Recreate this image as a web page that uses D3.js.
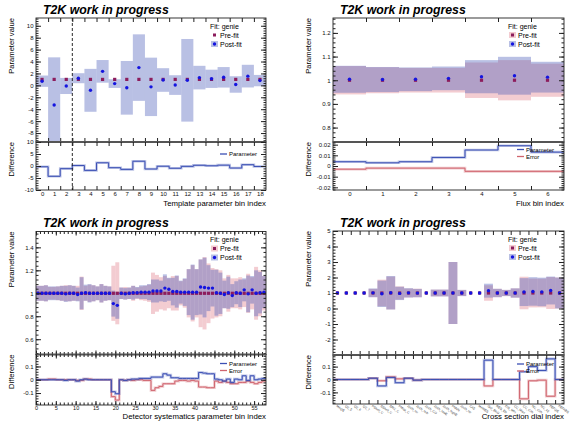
<!DOCTYPE html>
<html>
<head>
<meta charset="utf-8">
<script src="https://cdn.jsdelivr.net/npm/d3@7"></script>
<style>
  body { margin: 0; background: #fff; }
  svg { display: block; }
</style>
</head>
<body>
<svg width="572" height="421"></svg>
<script>
// ---------- data ----------

// Template parameters (19 bins), pre-fit has no band
const templateBins = [0,1,2,3,4,5,6,7,8,9,10,11,12,13,14,15,16,17,18];
const templatePrefit = [1,1,1,1,1,1,1,1,1,1,1,1,1,1,1,1,1,1,1];
const templatePostfit = [0.7,-3.3,-0.1,1.2,-0.83,2.35,0.3,-0.41,2.98,-0.25,0.9,0.05,0.85,1.3,1.1,1.35,0.15,1.55,0.8];
const templatePostErr = [0.95,8.0,1.35,0.84,3.6,1.9,0.73,4.5,5.58,4.9,1.98,1.65,6.93,1.98,1.53,1.72,1.38,1.9,0.95];

// Flux parameters (7 bins)
const fluxBins = [0,1,2,3,4,5,6];
const fluxPrefit = [1,1,1,1,1,1,1];
const fluxPrefitErr = [0.06,0.055,0.052,0.052,0.075,0.085,0.07];
const fluxPostfit = [1.004,1.003,1.004,1.008,1.015,1.019,1.013];
const fluxPostErr = [0.057,0.053,0.05,0.05,0.07,0.08,0.065];

// Detector systematics (58 bins)
const detBins = [0,1,2,3,4,5,6,7,8,9,10,11,12,13,14,15,16,17,18,19,20,21,22,23,24,25,26,27,28,29,
  30,31,32,33,34,35,36,37,38,39,40,41,42,43,44,45,46,47,48,49,50,51,52,53,54,55,56,57];
const detPrefit = detBins.map(() => 1);
const detPostfit = [1.0,1.0,1.0,1.0,1.0,1.0,1.0,0.995,1.0,1.0,0.99,1.0,1.005,1.0,1.0,1.0,1.0,1.0,1.0,
  0.91,0.895,
  1.0,0.995,1.0,1.005,1.005,1.01,1.01,1.01,1.02,1.02,1.02,1.045,1.035,1.015,1.015,1.01,1.01,1.01,1.01,1.01,
  1.055,1.05,1.045,1.045,1.005,1.0,0.99,1.005,0.98,1.005,1.0,1.03,0.995,1.03,1.0,1.005,1.01];
const detPostErr = [0.065,0.065,0.07,0.06,0.06,0.06,0.065,0.07,0.07,0.065,0.06,0.14,0.07,0.08,0.07,0.06,0.08,0.065,0.06,
  0.113,0.117,
  0.05,0.05,0.05,0.06,0.05,0.06,0.06,0.07,0.1,0.1,0.09,0.12,0.1,0.12,0.14,0.1,0.12,0.2,0.24,0.2,
  0.24,0.26,0.2,0.16,0.2,0.18,0.12,0.14,0.1,0.1,0.12,0.1,0.16,0.12,0.2,0.18,0.14];
const detPrefitErr = [0.065,0.065,0.07,0.055,0.055,0.06,0.065,0.07,0.07,0.065,0.065,0.145,0.065,0.075,0.07,0.06,0.08,0.065,0.06,
  0.24,0.27,
  0.05,0.055,0.05,0.065,0.05,0.06,0.065,0.075,0.18,0.16,0.14,0.15,0.13,0.15,0.15,0.105,0.125,0.21,0.245,0.21,
  0.295,0.315,0.26,0.22,0.21,0.2,0.13,0.16,0.13,0.13,0.14,0.12,0.17,0.14,0.23,0.2,0.15];

// Cross-section dials (26 bins)
const xsecNames = ["MAQE","Q2_5","Q2_6","Q2_7","PShell_C","SShell_C","SRC_C","PMiss_C",
  "2p2h_nu","2p2h_nub","2p2h_CO","2p2h_lowE","2p2h_highE","PNNN","2p2h_np","CA5","MARES",
  "ISO_BKG","RES_Eb","DIS_MPi","CC_Misc","CC_Coh","NC_Coh","NC_1g","FEFQE","FEFABS"];
const xsecBins = [0,1,2,3,4,5,6,7,8,9,10,11,12,13,14,15,16,17,18,19,20,21,22,23,24,25];
const xsecPrefit = xsecBins.map(() => 1);
const xsecPostfit = [1,1,1,1,1.01,0.95,1.015,0.975,1.01,0.995,1,1,1,1,1,1,1,1.15,1,1,1,1.06,1.1,1.07,1.16,1];
const xsecPostErr = [0,0,0,0,0.28,0.85,1.08,0.43,0.3,0.27,0,0.22,0.22,2.0,0.2,0,0,0.45,0.27,0.2,0.3,0.9,0.92,0.92,0.9,1.0];
const xsecPrefitErr = [0,0,0,0,0.27,0.86,1.06,0.425,0.29,0.275,0,0.22,0.22,2.0,0.2,0,0,0.5,0.27,0.2,0.3,1.05,0.93,0.925,1.03,1.0];

// tick labels
const tplUpTicks = [-8,-6,-4,-2,0,2,4,6,8,10];
const tplLoTicks = [-10,-5,0,5,10];
const fluxUpTicks = [0.8,0.9,1,1.1,1.2];
const fluxLoTicks = [-0.02,-0.01,0,0.01,0.02];
const detUpTicks = [0.6,0.8,1,1.2,1.4];
const detLoTicks = [-0.1,0,0.1];
const detXTicks = [0,5,10,15,20,25,30,35,40,45,50,55];
const xsecUpTicks = [-2,-1,0,1,2,3,4,5];
const xsecLoTicks = [-0.1,0,0.1];

// ---------- style ----------
const FONT = "'Liberation Sans', Arial, Helvetica, sans-serif";
const preFill = "rgba(226,128,140,0.4)";
const postFill = "rgba(70,90,185,0.38)";
const preColor = "#8c1c5c";
const postColor = "#1414e0";
const paramColor = "#3c50b4";
const errColor = "#d0646e";
const axisColor = "#222";

const svg = d3.select("svg");
const fmt = d => String(+d.toFixed(3));
let clipId = 0;

function clip(x0, y0, x1, y1) {
  const id = "clip" + (clipId++);
  svg.append("clipPath").attr("id", id).append("rect")
    .attr("x", x0).attr("y", y0).attr("width", x1 - x0).attr("height", y1 - y0);
  return "url(#" + id + ")";
}

function styleAxis(s) {
  s.attr("font-family", FONT).attr("font-size", 6);
  s.select(".domain").remove();
  s.selectAll("line").attr("stroke", axisColor);
  s.selectAll("text").attr("fill", "#111");
}

function minorValues(domain, step) {
  const lo = Math.min(domain[0], domain[1]), hi = Math.max(domain[0], domain[1]);
  return d3.range(Math.ceil(lo / step - 1e-9) * step, hi + 1e-9, step);
}

function yTicks(g, y, p, major, minorStep) {
  g.append("g").attr("transform", `translate(${p.left},0)`)
    .call(d3.axisLeft(y).tickValues(major).tickSize(-5).tickPadding(2.5).tickFormat(fmt)).call(styleAxis);
  g.append("g").attr("transform", `translate(${p.left},0)`)
    .call(d3.axisLeft(y).tickValues(minorValues(y.domain(), minorStep)).tickSize(-2.5).tickFormat("")).call(styleAxis);
  g.append("g").attr("transform", `translate(${p.right},0)`)
    .call(d3.axisRight(y).tickValues(major).tickSize(-5).tickFormat("")).call(styleAxis);
  g.append("g").attr("transform", `translate(${p.right},0)`)
    .call(d3.axisRight(y).tickValues(minorValues(y.domain(), minorStep)).tickSize(-2.5).tickFormat("")).call(styleAxis);
}

function xTicks(g, x, yPos, p, dir) {
  // "top" -> ticks pointing down, "bottom" -> ticks pointing up
  const axis = dir === "top" ? d3.axisTop : d3.axisBottom;
  if (p.numericX) {
    g.append("g").attr("transform", `translate(0,${yPos})`)
      .call(axis(x).tickValues(p.xMajor).tickSize(-4).tickFormat("")).call(styleAxis);
    g.append("g").attr("transform", `translate(0,${yPos})`)
      .call(axis(x).tickValues(p.bins).tickSize(-2.5).tickFormat("")).call(styleAxis);
  } else {
    const edges = p.bins.slice(1).map(b => b - 0.5);
    g.append("g").attr("transform", `translate(0,${yPos})`)
      .call(axis(x).tickValues(edges).tickSize(-4).tickFormat("")).call(styleAxis);
  }
}

function drawPanel(p) {
  const g = svg.append("g");
  const x = d3.scaleLinear().domain(p.xDomain).range([p.left, p.right]);
  const yUp = d3.scaleLinear().domain(p.upDomain).range([p.sep, p.top]);
  const yLo = d3.scaleLinear().domain(p.loDomain).range([p.bottom, p.sep]);
  const cx = b => p.numericX ? b + 0.5 : b;   // bin centre in axis units

  const rows = p.bins.map((b, i) => ({
    c: cx(b), pre: p.pre[i], preErr: p.preErr ? p.preErr[i] : 0,
    post: p.post[i], postErr: p.postErr[i]
  }));

  // ----- upper pad -----
  const up = g.append("g").attr("clip-path", clip(p.left, p.top, p.right, p.sep));
  if (p.preErr) {
    up.append("g").selectAll("rect").data(rows).join("rect")
      .attr("x", d => x(d.c - 0.5)).attr("width", d => x(d.c + 0.5) - x(d.c - 0.5))
      .attr("y", d => yUp(d.pre + d.preErr))
      .attr("height", d => yUp(d.pre - d.preErr) - yUp(d.pre + d.preErr))
      .attr("fill", preFill);
  }
  up.append("g").selectAll("rect").data(rows).join("rect")
    .attr("x", d => x(d.c - 0.5)).attr("width", d => x(d.c + 0.5) - x(d.c - 0.5))
    .attr("y", d => yUp(d.post + d.postErr))
    .attr("height", d => yUp(d.post - d.postErr) - yUp(d.post + d.postErr))
    .attr("fill", postFill);
  up.append("g").selectAll("rect").data(rows).join("rect")
    .attr("x", d => x(d.c) - 1.6).attr("y", d => yUp(d.pre) - 1.6)
    .attr("width", 3.2).attr("height", 3.2).attr("fill", preColor);
  up.append("g").selectAll("circle").data(rows).join("circle")
    .attr("cx", d => x(d.c)).attr("cy", d => yUp(d.post)).attr("r", 1.7)
    .attr("fill", postColor);

  g.append("rect").attr("x", p.left).attr("y", p.top)
    .attr("width", p.right - p.left).attr("height", p.sep - p.top)
    .attr("fill", "none").attr("stroke", axisColor).attr("stroke-width", 0.9);
  yTicks(g, yUp, p, p.upTicks, p.upMinor);
  xTicks(g, x, p.top, p, "top");
  xTicks(g, x, p.sep, p, "bottom");

  // ----- lower pad -----
  const lo = g.append("g").attr("clip-path", clip(p.left, p.sep, p.right, p.bottom));
  const stepLine = d3.line().x(d => x(d[0])).y(d => yLo(d[1]));
  const steps = vals => rows.flatMap((d, i) => [[d.c - 0.5, vals[i]], [d.c + 0.5, vals[i]]]);
  const paramDiff = rows.map(d => d.post - d.pre);
  if (p.preErr) {
    const errDiff = rows.map(d => d.postErr - d.preErr);
    lo.append("path").attr("d", stepLine(steps(errDiff)))
      .attr("fill", "none").attr("stroke", errColor).attr("stroke-opacity", 0.35).attr("stroke-width", 2.6);
    lo.append("path").attr("d", stepLine(steps(errDiff)))
      .attr("fill", "none").attr("stroke", errColor).attr("stroke-width", 1);
  }
  lo.append("path").attr("d", stepLine(steps(paramDiff)))
    .attr("fill", "none").attr("stroke", paramColor).attr("stroke-opacity", 0.35).attr("stroke-width", 2.6);
  lo.append("path").attr("d", stepLine(steps(paramDiff)))
    .attr("fill", "none").attr("stroke", paramColor).attr("stroke-width", 1);

  g.append("rect").attr("x", p.left).attr("y", p.sep)
    .attr("width", p.right - p.left).attr("height", p.bottom - p.sep)
    .attr("fill", "none").attr("stroke", axisColor).attr("stroke-width", 0.9);
  g.append("line").attr("x1", p.left).attr("x2", p.right).attr("y1", p.sep).attr("y2", p.sep)
    .attr("stroke", "#555").attr("stroke-width", 2);
  yTicks(g, yLo, p, p.loTicks, p.loMinor);
  xTicks(g, x, p.sep, p, "top");
  xTicks(g, x, p.bottom, p, "bottom");

  // x labels
  if (p.numericX) {
    g.append("g").attr("transform", `translate(0,${p.bottom})`)
      .call(d3.axisBottom(x).tickValues(p.xMajor).tickSize(0).tickPadding(1).tickFormat(fmt))
      .call(styleAxis).attr("font-size", 5.5);
  } else if (p.names) {
    g.append("g").selectAll("text").data(rows).join("text")
      .attr("transform", d => `translate(${x(d.c) - 1.5},${p.bottom + 2.5}) rotate(35)`)
      .attr("font-family", FONT).attr("font-size", 3.2).attr("fill", "#333")
      .text((d, i) => p.names[i]);
  } else {
    g.append("g").attr("transform", `translate(0,${p.bottom})`)
      .call(d3.axisBottom(x).tickValues(p.bins).tickSize(0).tickPadding(2).tickFormat(fmt)).call(styleAxis);
  }

  if (p.dashAt !== undefined) {
    g.append("line").attr("x1", x(p.dashAt)).attr("x2", x(p.dashAt))
      .attr("y1", p.top).attr("y2", p.bottom)
      .attr("stroke", "#111").attr("stroke-width", 0.9).attr("stroke-dasharray", "3,2");
  }

  // titles
  g.append("text").attr("x", p.left + 7).attr("y", p.top - 4.5)
    .attr("font-family", FONT).attr("font-size", 12.3).attr("font-weight", "bold")
    .attr("font-style", "italic").attr("fill", "#000").text("T2K work in progress");
  g.append("text").attr("transform", `translate(${p.left - 22},${p.top}) rotate(-90)`)
    .attr("text-anchor", "end").attr("font-family", FONT).attr("font-size", 7.6)
    .text("Parameter value");
  g.append("text").attr("transform", `translate(${p.left - 22},${p.sep}) rotate(-90)`)
    .attr("text-anchor", "end").attr("font-family", FONT).attr("font-size", 7.6)
    .text("Difference");
  g.append("text").attr("x", p.right).attr("y", p.xTitleY)
    .attr("text-anchor", "end").attr("font-family", FONT).attr("font-size", 7.8)
    .text(p.xTitle);

  // upper legend
  const lx = p.right - 56, ly = p.top + 10.5;
  g.append("text").attr("x", lx).attr("y", ly).attr("font-family", FONT).attr("font-size", 7)
    .text("Fit: genie");
  if (p.preErr) {
    g.append("rect").attr("x", lx + 1).attr("y", ly + 3.5).attr("width", 7).attr("height", 6).attr("fill", preFill);
  }
  g.append("rect").attr("x", lx + 3).attr("y", ly + 5).attr("width", 3).attr("height", 3).attr("fill", preColor);
  g.append("text").attr("x", lx + 10).attr("y", ly + 9).attr("font-family", FONT).attr("font-size", 7)
    .text("Pre-fit");
  g.append("rect").attr("x", lx + 1).attr("y", ly + 12.5).attr("width", 7).attr("height", 6).attr("fill", postFill);
  g.append("circle").attr("cx", lx + 4.5).attr("cy", ly + 15.5).attr("r", 1.7).attr("fill", postColor);
  g.append("text").attr("x", lx + 10).attr("y", ly + 18).attr("font-family", FONT).attr("font-size", 7)
    .text("Post-fit");

  // lower legend
  const kx = p.right - p.lowLegDx, ky = p.sep + p.lowLegDy;
  g.append("line").attr("x1", kx).attr("x2", kx + 7).attr("y1", ky - 2).attr("y2", ky - 2)
    .attr("stroke", paramColor).attr("stroke-width", 1.3);
  g.append("text").attr("x", kx + 9).attr("y", ky).attr("font-family", FONT).attr("font-size", 6)
    .text("Parameter");
  if (p.preErr) {
    g.append("line").attr("x1", kx).attr("x2", kx + 7).attr("y1", ky + 5).attr("y2", ky + 5)
      .attr("stroke", errColor).attr("stroke-width", 1.3);
    g.append("text").attr("x", kx + 9).attr("y", ky + 7).attr("font-family", FONT).attr("font-size", 6)
      .text("Error");
  }
}

drawPanel({
  left: 36, right: 266, top: 18, sep: 142, bottom: 190,
  xDomain: [-0.5, 18.5], bins: templateBins,
  pre: templatePrefit, post: templatePostfit, postErr: templatePostErr,
  upDomain: [-9.5, 11.3], upTicks: tplUpTicks, upMinor: 0.4,
  loDomain: [-10, 10], loTicks: tplLoTicks, loMinor: 1,
  dashAt: 2.5, xTitle: "Template parameter bin index", xTitleY: 206,
  lowLegDx: 46, lowLegDy: 14
});

drawPanel({
  left: 333, right: 564, top: 18, sep: 142, bottom: 190,
  xDomain: [-0.5, 6.5], bins: fluxBins,
  pre: fluxPrefit, preErr: fluxPrefitErr, post: fluxPostfit, postErr: fluxPostErr,
  upDomain: [0.739, 1.263], upTicks: fluxUpTicks, upMinor: 0.02,
  loDomain: [-0.0225, 0.0225], loTicks: fluxLoTicks, loMinor: 0.002,
  xTitle: "Flux bin index", xTitleY: 206,
  lowLegDx: 47, lowLegDy: 9.5
});

drawPanel({
  left: 36, right: 266, top: 231.5, sep: 354.5, bottom: 405,
  xDomain: [0, 58], bins: detBins, numericX: true, xMajor: detXTicks,
  pre: detPrefit, preErr: detPrefitErr, post: detPostfit, postErr: detPostErr,
  upDomain: [0.467, 1.538], upTicks: detUpTicks, upMinor: 0.04,
  loDomain: [-0.19, 0.19], loTicks: detLoTicks, loMinor: 0.02,
  xTitle: "Detector systematics parameter bin index", xTitleY: 419,
  lowLegDx: 46, lowLegDy: 11
});

drawPanel({
  left: 333, right: 564, top: 231, sep: 355, bottom: 404,
  xDomain: [-0.5, 25.5], bins: xsecBins, names: xsecNames,
  pre: xsecPrefit, preErr: xsecPrefitErr, post: xsecPostfit, postErr: xsecPostErr,
  upDomain: [-3, 5], upTicks: xsecUpTicks, upMinor: 0.2,
  loDomain: [-0.19, 0.19], loTicks: xsecLoTicks, loMinor: 0.02,
  xTitle: "Cross section dial index", xTitleY: 419,
  lowLegDx: 47, lowLegDy: 11
});
</script>
</body>
</html>
